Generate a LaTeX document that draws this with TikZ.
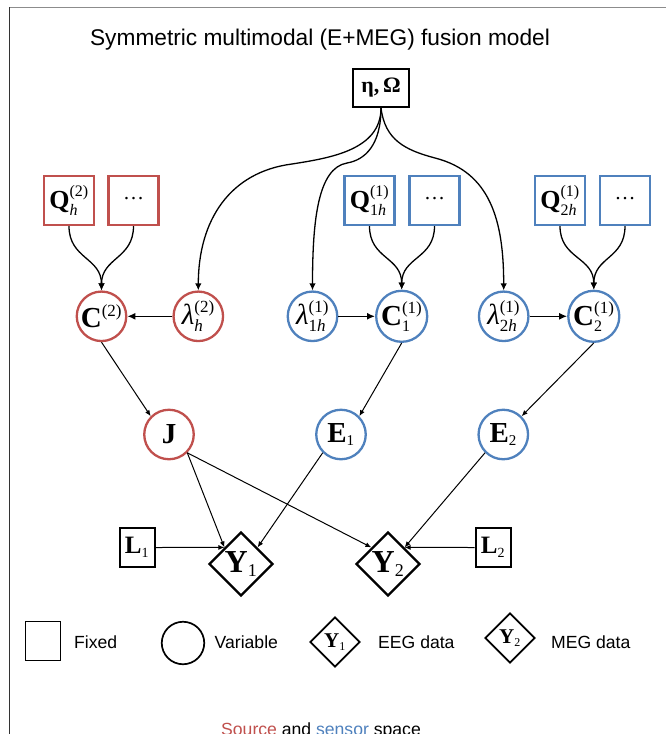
\documentclass[tikz,border=0pt]{standalone}
\usepackage{amsmath}
\usepackage{fontspec}
\setmainfont{Liberation Serif}
\newfontfamily\sansf{Liberation Sans}
\usetikzlibrary{arrows.meta,shapes.geometric}
\definecolor{cred}{RGB}{192,80,77}
\definecolor{cblue}{RGB}{79,129,189}
\newcommand{\mysc}[2]{\text{\fontsize{#1}{#1}\selectfont #2}}
\newcommand{\dotsy}{\raisebox{2pt}{\smash{\fontsize{21}{24}\selectfont …}}}
\begin{document}
\begin{tikzpicture}[x=1pt,y=-1pt,
  box/.style={draw,line width=2.1pt,minimum width=50pt,minimum height=49pt,inner sep=0pt,font=\fontsize{26}{30}\selectfont},
  rbox/.style={box,draw=cred},
  bbox/.style={box,draw=cblue},
  var/.style={circle,draw,line width=2.3pt,minimum size=49.5pt,inner sep=0pt,font=\fontsize{29}{32}\selectfont},
  rvar/.style={var,draw=cred},
  bvar/.style={var,draw=cblue},
  dat/.style={diamond,aspect=1,draw,line width=2.3pt,minimum size=64pt,inner sep=0pt,font=\fontsize{32}{36}\selectfont},
  fix/.style={draw,line width=2pt,minimum width=35pt,minimum height=39pt,inner sep=0pt,font=\fontsize{25}{30}\selectfont},
  conn/.style={line width=1pt,-{Latex[length=6pt,width=5pt]}},
  cconn/.style={line width=1.3pt,-{Latex[length=7pt,width=6.5pt]}},
  hconn/.style={line width=1.5pt,-{Latex[length=8pt,width=7pt]}},
  lab/.style={font=\sansf\fontsize{17.6}{20}\selectfont,anchor=base west,inner sep=0pt}
]
\useasboundingbox (0,0) rectangle (666,734);
% frame
\draw[black!45,line width=1pt] (9,7) -- (666,7);
\draw[black!80,line width=1pt] (9,7) -- (9,734);
% title
\node[font=\sansf\fontsize{22.7}{26}\selectfont,anchor=base,inner sep=0pt] (title) at (320,45) {Symmetric multimodal (E+MEG) fusion model};
% hyperparameters
\node[draw,line width=2pt,minimum width=56pt,minimum height=38pt,inner sep=0pt,font=\fontsize{22}{26}\selectfont\bfseries] (eta) at (381,88) {η,\,Ω};
% top boxes
\node[rbox] (Qr) at (69,200.5) {$\text{\bfseries Q}_{\mysc{16}{\itshape h}}^{\mysc{16}{(2)}}$};
\node[rbox] (Dr) at (133.5,200.5) {\dotsy};
\node[bbox] (Qb1) at (369.5,200.5) {$\text{\bfseries Q}_{\mysc{16}{1\itshape h}}^{\mysc{16}{(1)}}$};
\node[bbox] (Db1) at (434.5,200.5) {\dotsy};
\node[bbox] (Qb2) at (560,200.5) {$\text{\bfseries Q}_{\mysc{16}{2\itshape h}}^{\mysc{16}{(1)}}$};
\node[bbox] (Db2) at (625,200.5) {\dotsy};
% circles row 1
\node[rvar] (Cr) at (101.5,316.3) {$\text{\bfseries C}^{\mysc{17}{(2)}}$};
\node[rvar] (lamr) at (198.3,316.3) {$\text{\itshape λ}_{\mysc{17}{\itshape h}}^{\mysc{17}{(2)}}$};
\node[bvar] (lamb1) at (312.5,316.3) {$\text{\itshape λ}_{\mysc{17}{1\itshape h}}^{\mysc{17}{(1)}}$};
\node[bvar] (Cb1) at (401.7,316.3) {$\text{\bfseries C}_{\mysc{16}{1}}^{\mysc{17}{(1)}}$};
\node[bvar] (lamb2) at (503.7,316.3) {$\text{\itshape λ}_{\mysc{17}{2\itshape h}}^{\mysc{17}{(1)}}$};
\node[bvar] (Cb2) at (593.8,316.3) {$\text{\bfseries C}_{\mysc{16}{2}}^{\mysc{17}{(1)}}$};
% circles row 2
\node[rvar] (J) at (169,434.5) {\textbf{J}};
\node[bvar] (E1) at (341,434.5) {$\text{\bfseries E}_{\mysc{15}{1}}$};
\node[bvar] (E2) at (503.3,434.5) {$\text{\bfseries E}_{\mysc{15}{2}}$};
% data
\node[dat] (Y1) at (241,564) {$\text{\bfseries Y}_{\mysc{18}{1}}$};
\node[dat] (Y2) at (388,564) {$\text{\bfseries Y}_{\mysc{18}{2}}$};
\node[fix] (L1) at (137,547.5) {$\text{\bfseries L}_{\mysc{14}{1}}$};
\node[fix] (L2) at (493,547.5) {$\text{\bfseries L}_{\mysc{14}{2}}$};
% connectors
\draw[cconn] (eta.south) .. controls (381,150) and (330,158) .. (292,164) .. controls (230,172) and (198.3,220) .. (lamr.north);
\draw[cconn] (eta.south) .. controls (381,145) and (365,160) .. (347,163) .. controls (318,168) and (312.5,220) .. (lamb1.north);
\draw[cconn] (eta.south) .. controls (385,140) and (405,150) .. (435,158) .. controls (490,172) and (503.7,220) .. (lamb2.north);
\draw[cconn] (Qr.south) .. controls +(0,33) and +(0,-33) .. (Cr.north);
\draw[cconn] (Dr.south) .. controls +(0,33) and +(0,-33) .. (Cr.north);
\draw[cconn] (Qb1.south) .. controls +(0,33) and +(0,-33) .. (Cb1.north);
\draw[cconn] (Db1.south) .. controls +(0,33) and +(0,-33) .. (Cb1.north);
\draw[cconn] (Qb2.south) .. controls +(0,33) and +(0,-33) .. (Cb2.north);
\draw[cconn] (Db2.south) .. controls +(0,33) and +(0,-33) .. (Cb2.north);
\draw[hconn] (lamr) -- (Cr);
\draw[hconn] (lamb1) -- (Cb1);
\draw[hconn] (lamb2) -- (Cb2);
\draw[conn] (Cr.south) -- (J.north west);
\draw[conn] (Cb1.south) -- (E1.north east);
\draw[conn] (Cb2.south) -- (E2.north east);
\draw[conn] (J.south east) -- (Y1.north west);
\draw[conn] (J.south east) -- (Y2.north west);
\draw[conn] (E1.south west) -- (Y1.north east);
\draw[conn] (E2.south west) -- (Y2.north east);
\draw[conn] (L1.east) -- (Y1.north west);
\draw[conn] (L2.west) -- (Y2.north east);
% legend
\node[fix,line width=1.8pt] (lf) at (43,641) {};
\node[lab] (tf) at (74,648) {Fixed};
\node[var,line width=1.7pt,minimum size=42.5pt] (lv) at (183,643) {};
\node[lab] (tv) at (214.5,648) {Variable};
\node[dat,line width=1.8pt,minimum size=50pt,font=\fontsize{21}{24}\selectfont] (le) at (335,642) {$\text{\bfseries Y}_{\mysc{12}{1}}$};
\node[lab] (te) at (378,648) {EEG data};
\node[dat,line width=1.8pt,minimum size=50pt,font=\fontsize{21}{24}\selectfont] (lm) at (510,638) {$\text{\bfseries Y}_{\mysc{12}{2}}$};
\node[lab] (tm) at (551,648) {MEG data};
% footer (cut at the lower edge, as in the reference)
\node[font=\sansf\fontsize{17.6}{20}\selectfont,anchor=base,inner sep=0pt] (foot) at (321,735.5) {\textcolor{cred}{Source} and \textcolor{cblue}{sensor} space};
\end{tikzpicture}
\end{document}
